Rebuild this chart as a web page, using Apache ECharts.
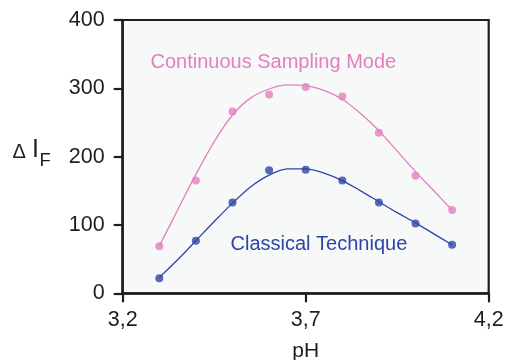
<!DOCTYPE html>
<html>
<head>
<meta charset="utf-8">
<script src="https://cdn.jsdelivr.net/npm/echarts@6/dist/echarts.min.js"></script>
<style>
  html, body { margin: 0; padding: 0; background: #ffffff; }
  #chart { width: 507px; height: 360px; }
</style>
</head>
<body>
<div id="chart"></div>
<script>
// Measured points (pH vs. ΔI_F)
const phPoints = [3.3, 3.4, 3.5, 3.6, 3.7, 3.8, 3.9, 4.0, 4.1];
const continuousValues = [69, 165, 266, 291, 302, 288, 235, 172, 122];
const classicalValues = [22, 77, 133, 180, 181, 165, 133, 102, 71];

// Fitted curves, sampled every 0.05 pH
const phCurve = [3.3, 3.35, 3.4, 3.45, 3.5, 3.55, 3.6, 3.65, 3.7, 3.75, 3.8, 3.85, 3.9, 3.95, 4.0, 4.05, 4.1];
const continuousFit = [69, 122, 174, 222, 261, 286, 299, 305, 304, 297, 284, 263, 238, 208, 178, 150, 122];
const classicalFit = [23, 49, 77, 105, 132, 156, 173, 182, 182, 176, 165, 150, 134, 118, 103, 87, 71];

// Axis ticks
const xTicks = [3.2, 3.7, 4.2];
const yTicks = [0, 100, 200, 300, 400];

const pink = '#e37fc1';
const blue = '#2e45a8';
const ink = '#1e1e1e';
const font = 'Liberation Sans, Arial, Helvetica, sans-serif';

const pairs = (xs, ys) => xs.map((x, i) => [x, ys[i]]);

const chart = echarts.init(document.getElementById('chart'), null, { renderer: 'canvas' });

chart.setOption({
  animation: false,
  backgroundColor: '#ffffff',
  textStyle: { fontFamily: font },
  grid: {
    left: 122.7, right: 18.3, top: 20, bottom: 66.7,
    outerBoundsMode: 'none',
    containLabel: false,
    show: true,
    backgroundColor: '#f7f9f9',
    borderColor: ink,
    borderWidth: 2.2
  },
  xAxis: {
    type: 'value',
    min: xTicks[0],
    max: xTicks[xTicks.length - 1],
    interval: xTicks[1] - xTicks[0],
    name: 'pH',
    nameLocation: 'middle',
    nameGap: 47,
    nameTextStyle: { color: ink, fontSize: 21, fontFamily: font },
    axisLine: { lineStyle: { color: ink, width: 2.5 } },
    axisTick: { inside: false, length: 9, lineStyle: { color: ink, width: 2.2 } },
    axisLabel: {
      color: ink, fontSize: 21.5, fontFamily: font, margin: 16,
      formatter: v => v.toFixed(1).replace('.', ',')
    },
    splitLine: { show: false }
  },
  yAxis: {
    type: 'value',
    min: yTicks[0],
    max: yTicks[yTicks.length - 1],
    interval: yTicks[1] - yTicks[0],
    axisLine: { show: true, lineStyle: { color: ink, width: 2.5 } },
    axisTick: { show: true, inside: false, length: 9, lineStyle: { color: ink, width: 2.2 } },
    axisLabel: { color: ink, fontSize: 21.5, fontFamily: font, margin: 18 },
    splitLine: { show: false }
  },
  series: [
    {
      type: 'line', data: pairs(phCurve, continuousFit), smooth: 0.3,
      showSymbol: false, lineStyle: { color: pink, width: 1.3 }, z: 2
    },
    {
      type: 'line', data: pairs(phCurve, classicalFit), smooth: 0.3,
      showSymbol: false, lineStyle: { color: blue, width: 1.3 }, z: 2
    },
    {
      type: 'scatter', data: pairs(phPoints, continuousValues),
      symbolSize: 8, itemStyle: { color: pink }, z: 3
    },
    {
      type: 'scatter', data: pairs(phPoints, classicalValues),
      symbolSize: 8, itemStyle: { color: blue }, z: 3
    }
  ],
  graphic: [
    {
      type: 'text', left: 150.5, top: 52,
      style: { text: 'Continuous Sampling Mode', fill: pink, font: '20px ' + font }
    },
    {
      type: 'text', left: 230.5, top: 234.5,
      style: { text: 'Classical Technique', fill: blue, font: '20px ' + font }
    },
    // ΔI_F axis caption
    {
      type: 'text', left: 12.5, top: 142,
      style: { text: 'Δ', fill: ink, font: '20px ' + font }
    },
    {
      type: 'text', left: 32, top: 138,
      style: { text: 'I', fill: ink, font: '25px ' + font }
    },
    {
      type: 'text', left: 39.5, top: 151,
      style: { text: 'F', fill: ink, font: '18.5px ' + font }
    }
  ]
});
</script>
</body>
</html>
